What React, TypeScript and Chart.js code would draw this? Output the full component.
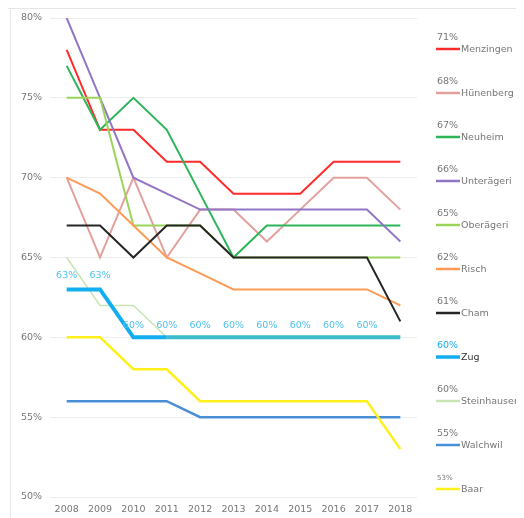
import React, { useEffect, useRef } from "react";
import { Chart, registerables } from "chart.js";

Chart.register(...registerables);

const years = ["2008", "2009", "2010", "2011", "2012", "2013", "2014", "2015", "2016", "2017", "2018"];

const menzingen = [78, 73, 73, 71, 71, 69, 69, 69, 71, 71, 71];
const huenenberg = [70, 65, 70, 65, 68, 68, 66, 68, 70, 70, 68];
const neuheim = [77, 73, 75, 73, 69, 65, 67, 67, 67, 67, 67];
const unteraegeri = [80, 75, 70, 69, 68, 68, 68, 68, 68, 68, 66];
const oberaegeri = [75, 75, 67, 67, 67, 65, 65, 65, 65, 65, 65];
const risch = [70, 69, 67, 65, 64, 63, 63, 63, 63, 63, 62];
const cham = [67, 67, 65, 67, 67, 65, 65, 65, 65, 65, 61];
const zug = [63, 63, 60, 60, 60, 60, 60, 60, 60, 60, 60];
const steinhausen = [65, 62, 62, 60, 60, 60, 60, 60, 60, 60, 60];
const walchwil = [56, 56, 56, 56, 55, 55, 55, 55, 55, 55, 55];
const baar = [60, 60, 58, 58, 56, 56, 56, 56, 56, 56, 53];

const zugLabelFlags = [true, true, true, true, true, true, true, true, true, true, false];

const FONT = "'DejaVu Sans', Verdana, sans-serif";

// z: higher is drawn on top
const series = [
  { label: "Menzingen", data: menzingen, color: "#ff2b2b", width: 2, z: 0 },
  { label: "Hünenberg", data: huenenberg, color: "#e3a19d", width: 2, z: 1 },
  { label: "Neuheim", data: neuheim, color: "#2db55a", width: 2, z: 2 },
  { label: "Unterägeri", data: unteraegeri, color: "#9276c6", width: 2, z: 3 },
  { label: "Oberägeri", data: oberaegeri, color: "#9ad45a", width: 2, z: 4 },
  { label: "Risch", data: risch, color: "#fd9b55", width: 2, z: 5 },
  { label: "Cham", data: cham, color: "#262626", width: 2, z: 6 },
  { label: "Zug", data: zug, color: "#12aef0", width: 4, z: 8 },
  { label: "Steinhausen", data: steinhausen, color: "#c8e4b4", width: 1.5, z: 7 },
  { label: "Walchwil", data: walchwil, color: "#4a8fd6", width: 2.5, z: 9 },
  { label: "Baar", data: baar, color: "#ffef1a", width: 2.5, z: 10 },
];

const frameAndLegend = {
  id: "frameAndLegend",
  beforeDraw(chart: any) {
    const ctx = chart.ctx;
    ctx.save();
    ctx.strokeStyle = "#e6e6e6";
    ctx.lineWidth = 1;
    ctx.beginPath();
    ctx.moveTo(0, 0.5);
    ctx.lineTo(chart.width, 0.5);
    ctx.moveTo(2.5, 0);
    ctx.lineTo(2.5, chart.height);
    ctx.stroke();
    ctx.restore();
  },
  afterDraw(chart: any) {
    const ctx = chart.ctx;
    ctx.save();
    const zi = chart.data.datasets.findIndex((d: any) => d.label === "Zug");
    const meta = chart.getDatasetMeta(zi);
    ctx.fillStyle = "#4fc0f0";
    ctx.font = `9.5px ${FONT}`;
    ctx.textAlign = "center";
    ctx.textBaseline = "middle";
    meta.data.forEach((pt: any, i: number) => {
      if (!zugLabelFlags[i]) return;
      const v = zug[i];
      ctx.fillText(`${v}%`, pt.x, pt.y - (v > 61 ? 14 : 12));
    });
    chart.data.datasets.forEach((ds: any, i: number) => {
      const y = 41 + 44 * i;
      const last = ds.data[ds.data.length - 1];
      const isZug = ds.label === "Zug";
      ctx.textAlign = "left";
      ctx.textBaseline = "middle";
      ctx.font = `${ds.label === "Baar" ? 7 : 9.5}px ${FONT}`;
      ctx.fillStyle = isZug ? "#16aef0" : "#777777";
      ctx.fillText(`${last}%`, 429, y - 11);
      ctx.strokeStyle = ds.borderColor;
      ctx.lineWidth = isZug ? 3.5 : 2.5;
      ctx.beginPath();
      ctx.moveTo(428, y);
      ctx.lineTo(452, y);
      ctx.stroke();
      ctx.font = `9.5px ${FONT}`;
      ctx.fillStyle = isZug ? "#333333" : "#777777";
      ctx.fillText(ds.label, 453, y + 1);
    });
    ctx.restore();
  },
};

export default function App() {
  const ref = useRef<HTMLCanvasElement | null>(null);
  useEffect(() => {
    document.body.style.overflow = "hidden";
    document.documentElement.style.overflow = "hidden";
    if (!ref.current) return;
    const chart = new Chart(ref.current, {
      type: "line",
      data: {
        labels: years,
        datasets: series.map((s) => ({
          label: s.label,
          data: s.data,
          order: -s.z,
          borderColor: s.color,
          backgroundColor: s.color,
          borderWidth: s.width,
          pointRadius: 0,
          pointHoverRadius: 0,
          tension: 0,
          fill: false,
          segment:
            s.label === "Zug"
              ? {
                  borderColor: (c: any) =>
                    steinhausen[c.p0DataIndex] === zug[c.p0DataIndex] &&
                    steinhausen[c.p1DataIndex] === zug[c.p1DataIndex]
                      ? "#3dbdcc"
                      : undefined,
                }
              : undefined,
        })),
      },
      options: {
        animation: false,
        responsive: true,
        maintainAspectRatio: false,
        layout: { padding: { top: 0, right: 107, left: 0, bottom: 0 } },
        plugins: {
          legend: { display: false },
          tooltip: { enabled: false },
        },
        scales: {
          x: {
            offset: true,
            grid: { display: false, drawTicks: false },
            border: { display: false },
            ticks: { color: "#777", font: { size: 9.5, family: FONT }, padding: 7, maxRotation: 0, autoSkip: false },
            afterFit: (s: any) => {
              s.height = 21;
            },
          },
          y: {
            min: 50,
            max: 80,
            grid: { color: "#ededed", lineWidth: 1, drawTicks: false },
            border: { display: false },
            ticks: {
              stepSize: 5,
              color: "#777",
              font: { size: 9.5, family: FONT },
              padding: 8,
              callback: (v: any) => `${v}%`,
            },
            afterFit: (s: any) => {
              s.width = 42;
              s.paddingTop = 10;
              s.paddingBottom = 0;
            },
          },
        },
      },
      plugins: [frameAndLegend],
    });
    return () => chart.destroy();
  }, []);
  return (
    <div style={{ width: 516, height: 510, position: "relative" }}>
      <canvas ref={ref} />
    </div>
  );
}
